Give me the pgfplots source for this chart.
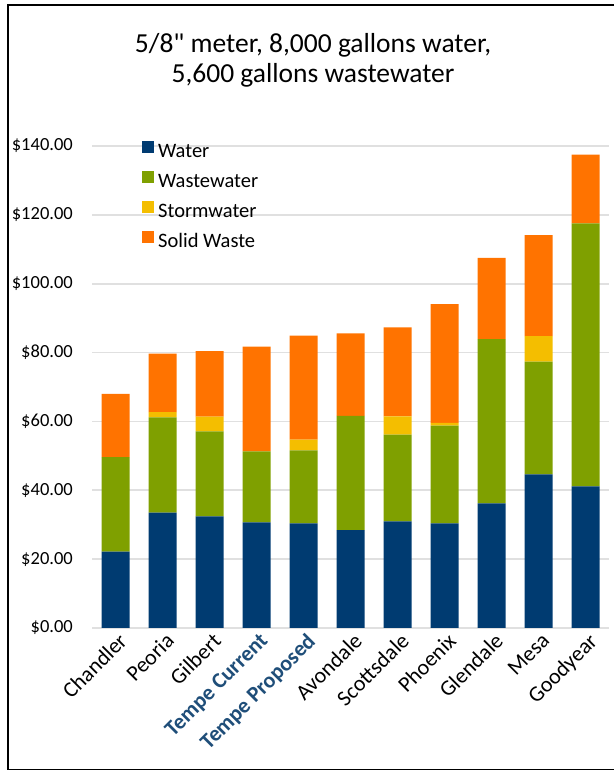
\documentclass[border=0pt]{standalone}
\usepackage{pgfplots}
\pgfplotsset{compat=1.18}
\usepackage{fontspec}
\setmainfont{Carlito}[Ligatures=TeXOff]
\definecolor{c-water}{HTML}{003B71}
\definecolor{c-waste}{HTML}{7FA000}
\definecolor{c-storm}{HTML}{F4BE00}
\definecolor{c-solid}{HTML}{FF7300}
\definecolor{c-tempe}{HTML}{1F4E79}
\definecolor{c-grid}{HTML}{E0E0E0}

\begin{document}
\begin{tikzpicture}
	\useasboundingbox (0pt,0pt) rectangle (614pt,771pt);
	% frame (right side is cut off in the original)
	\draw[line width=1.3pt] (614pt,766pt) -- (8pt,766pt) -- (8pt,1.5pt) -- (614pt,1.5pt);
	% title, one node per line
	\node[font=\fontsize{27.5}{30}\selectfont, anchor=base] at (313pt,718pt)
		{5/8" meter, 8,000 gallons water,};
	\node[font=\fontsize{27.5}{30}\selectfont, anchor=base] at (313pt,688pt)
		{5,600 gallons wastewater};

	\begin{axis}[%
		at = {(92pt,143pt)},
		anchor = south west,
		scale only axis,
		width = 517pt,
		height = 482pt,
		ybar stacked,
		bar width = 28pt,
		xmin = -0.5, xmax = 10.5,
		ymin = 0, ymax = 140,
		clip = false,
		axis line style = {draw = none},
		tick style = {draw = none},
		ymajorgrids = true,
		grid style = {line width = 1.6pt, c-grid},
		ytick = {0, 20, 40, 60, 80, 100, 120, 140},
		yticklabels = {\$0.00, \$20.00, \$40.00, \$60.00, \$80.00, \$100.00, \$120.00, \$140.00},
		yticklabel style = {font = \fontsize{18.5}{20}\selectfont, inner sep = 0pt, xshift = -19pt},
		xtick = {0, 1, 2, 3, 4, 5, 6, 7, 8, 9, 10},
		xticklabels = {Chandler, Peoria, Gilbert,
			{\textbf{\color{c-tempe}Tempe Current}},
			{\textbf{\color{c-tempe}Tempe Proposed}},
			Avondale, Scottsdale, Phoenix, Glendale, Mesa, Goodyear},
		xticklabel style = {font = \fontsize{22}{24}\selectfont, rotate = 45,
			anchor = north east, inner sep = 1pt, xshift = 0pt, yshift = -3pt},
		/pgf/number format/assume math mode = true,
		legend cell align = left,
		legend style = {
			at = {(0.0967, 1.01)},
			anchor = north west,
			draw = none, fill = none,
			inner sep = 0pt,
			row sep = 10pt,
			font = \fontsize{20.5}{22}\selectfont,
			nodes = {inner sep = 0pt, text height = 14pt, text depth = 4pt},
			/tikz/every odd column/.append style = {column sep = 4pt}
		},
		legend image code/.code = {\fill[#1] (0pt,-1pt) rectangle (12pt,11pt);}
	]
		% Water
		\addplot+ [fill = c-water, draw = none] coordinates {
			(0, 22.2) (1, 33.5) (2, 32.4) (3, 30.7) (4, 30.4) (5, 28.4)
			(6, 31.0) (7, 30.4) (8, 36.2) (9, 44.6) (10, 41.1)
		};
		% Wastewater
		\addplot+ [fill = c-waste, draw = none] coordinates {
			(0, 27.4) (1, 27.7) (2, 24.7) (3, 20.6) (4, 21.2) (5, 33.2)
			(6, 25.2) (7, 28.4) (8, 47.7) (9, 32.8) (10, 76.4)
		};
		% Stormwater
		\addplot+ [fill = c-storm, draw = none] coordinates {
			(0, 0) (1, 1.5) (2, 4.3) (3, 0) (4, 3.1) (5, 0)
			(6, 5.3) (7, 0.8) (8, 0) (9, 7.4) (10, 0)
		};
		% Solid waste
		\addplot+ [fill = c-solid, draw = none] coordinates {
			(0, 18.4) (1, 17.0) (2, 19.0) (3, 30.4) (4, 30.2) (5, 24.0)
			(6, 25.8) (7, 34.5) (8, 23.6) (9, 29.3) (10, 20.0)
		};
		\legend{Water, Wastewater, Stormwater, Solid Waste}
	\end{axis}
\end{tikzpicture}
\end{document}
